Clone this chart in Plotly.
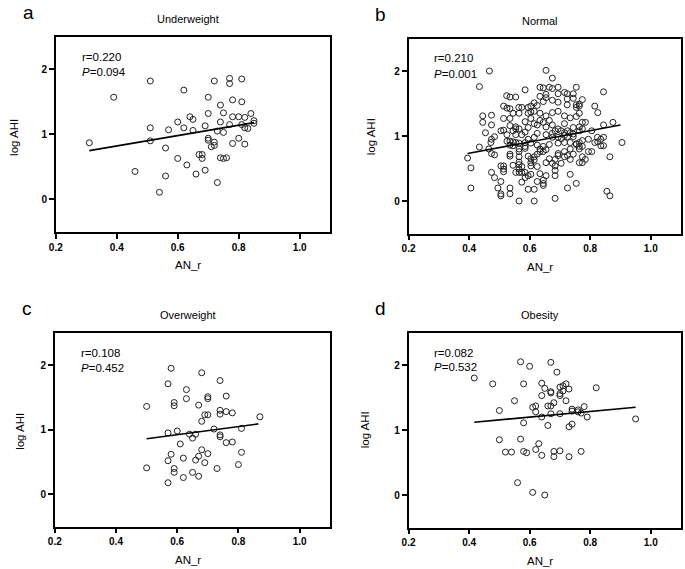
import plotly.graph_objects as go

W, H = 685, 569
FONT = "Liberation Sans, Arial, sans-serif"

# (AN_r, log AHI)
underweight = [
    (0.31, 0.87), (0.39, 1.57), (0.51, 1.82), (0.51, 1.10), (0.51, 0.90), (0.46, 0.43),
    (0.56, 0.79), (0.56, 0.36), (0.57, 1.07), (0.54, 0.11), (0.60, 1.19), (0.60, 0.63),
    (0.62, 1.68), (0.62, 1.10), (0.63, 0.53), (0.64, 1.27), (0.65, 1.23), (0.65, 1.06),
    (0.66, 0.39), (0.67, 0.69), (0.68, 0.69), (0.68, 0.63), (0.69, 1.13), (0.69, 0.45),
    (0.70, 1.57), (0.70, 1.32), (0.70, 0.94), (0.70, 0.91), (0.71, 0.81), (0.72, 1.82),
    (0.72, 0.88), (0.72, 0.83), (0.73, 1.05), (0.73, 0.26), (0.74, 1.45), (0.74, 1.19),
    (0.74, 0.64), (0.75, 1.33), (0.75, 1.03), (0.75, 0.63), (0.76, 0.64), (0.77, 1.86),
    (0.77, 1.78), (0.77, 1.15), (0.78, 1.53), (0.78, 1.27), (0.78, 0.86), (0.80, 1.27),
    (0.80, 0.94), (0.81, 1.85), (0.81, 1.50), (0.81, 1.15), (0.82, 1.26), (0.82, 1.10),
    (0.82, 0.85), (0.83, 1.09), (0.84, 1.32), (0.85, 1.21), (0.85, 1.17),
]
normal = [
    (0.467, 2.00), (0.654, 2.01), (0.434, 1.76), (0.585, 1.71), (0.675, 1.89), (0.634, 1.75),
    (0.645, 1.74), (0.665, 1.75), (0.694, 1.75), (0.654, 1.64), (0.654, 1.59), (0.675, 1.73),
    (0.715, 1.67), (0.754, 1.75), (0.844, 1.68), (0.524, 1.62), (0.535, 1.60), (0.554, 1.60),
    (0.514, 1.46), (0.535, 1.42), (0.574, 1.44), (0.604, 1.46), (0.615, 1.51), (0.615, 1.38),
    (0.645, 1.53), (0.675, 1.55), (0.694, 1.52), (0.724, 1.57), (0.744, 1.58), (0.774, 1.56),
    (0.724, 1.48), (0.754, 1.48), (0.764, 1.49), (0.754, 1.44), (0.764, 1.46), (0.815, 1.46),
    (0.825, 1.36), (0.565, 1.35), (0.595, 1.35), (0.634, 1.35), (0.654, 1.31), (0.675, 1.36),
    (0.694, 1.38), (0.715, 1.31), (0.734, 1.28), (0.754, 1.30), (0.764, 1.35), (0.445, 1.31),
    (0.474, 1.32), (0.445, 1.21), (0.474, 1.17), (0.454, 1.05), (0.474, 0.95), (0.484, 0.99),
    (0.472, 0.90), (0.434, 0.83), (0.465, 0.80), (0.474, 0.73), (0.484, 0.71), (0.395, 0.66),
    (0.406, 0.51), (0.406, 0.20), (0.474, 0.44), (0.484, 0.36), (0.495, 0.20), (0.505, 0.30),
    (0.505, 0.11), (0.505, 0.08), (0.535, 0.20), (0.535, 0.11), (0.565, 0.00), (0.615, 0.00),
    (0.684, 0.04), (0.855, 0.15), (0.865, 0.08), (0.514, 1.09), (0.505, 1.08), (0.535, 1.16),
    (0.525, 1.02), (0.535, 0.92), (0.525, 0.92), (0.545, 1.08), (0.554, 1.02), (0.554, 1.14),
    (0.554, 1.11), (0.565, 1.11), (0.574, 1.02), (0.585, 1.06), (0.595, 1.13), (0.585, 1.22),
    (0.604, 1.27), (0.615, 1.19), (0.625, 1.17), (0.634, 1.24), (0.645, 1.21), (0.654, 1.14),
    (0.665, 1.24), (0.675, 1.17), (0.684, 1.08), (0.694, 1.11), (0.704, 1.08), (0.715, 1.19),
    (0.725, 1.08), (0.734, 1.05), (0.744, 1.03), (0.705, 0.96), (0.715, 1.01), (0.654, 1.02),
    (0.675, 0.98), (0.625, 1.04), (0.615, 0.98), (0.595, 0.95), (0.585, 0.90), (0.565, 0.89),
    (0.554, 0.90), (0.545, 0.85), (0.565, 0.80), (0.585, 0.81), (0.604, 0.89), (0.625, 0.86),
    (0.645, 0.84), (0.665, 0.87), (0.694, 0.89), (0.715, 0.90), (0.734, 0.90), (0.754, 0.87),
    (0.764, 0.90), (0.774, 0.93), (0.794, 0.95), (0.815, 0.90), (0.825, 0.91), (0.824, 0.98),
    (0.844, 0.98), (0.844, 0.85), (0.835, 0.85), (0.835, 0.95), (0.794, 0.76), (0.784, 0.64),
    (0.774, 0.68), (0.865, 0.68), (0.905, 0.90), (0.875, 1.21), (0.844, 1.17), (0.805, 1.08),
    (0.784, 1.21), (0.774, 1.21), (0.774, 1.11), (0.764, 1.14), (0.744, 1.13), (0.754, 0.88),
    (0.764, 0.84), (0.734, 0.80), (0.744, 0.72), (0.725, 0.70), (0.715, 0.76), (0.694, 0.73),
    (0.694, 0.70), (0.684, 0.64), (0.675, 0.58), (0.684, 0.54), (0.684, 0.47), (0.684, 0.39),
    (0.665, 0.65), (0.654, 0.59), (0.654, 0.79), (0.645, 0.76), (0.634, 0.76), (0.625, 0.72),
    (0.615, 0.68), (0.604, 0.65), (0.604, 0.59), (0.604, 0.54), (0.615, 0.63), (0.625, 0.53),
    (0.595, 0.69), (0.585, 0.84), (0.565, 0.76), (0.565, 0.68), (0.565, 0.60), (0.565, 0.56),
    (0.574, 0.53), (0.565, 0.49), (0.554, 0.44), (0.565, 0.44), (0.574, 0.44), (0.585, 0.44),
    (0.585, 0.36), (0.595, 0.39), (0.604, 0.41), (0.545, 0.91), (0.535, 0.86), (0.535, 0.72),
    (0.535, 0.69), (0.514, 0.54), (0.505, 0.54), (0.514, 0.49), (0.514, 0.45), (0.545, 0.55),
    (0.574, 0.29), (0.615, 0.18), (0.595, 0.18), (0.645, 0.32), (0.645, 0.27), (0.645, 0.24),
    (0.654, 0.39), (0.704, 0.58), (0.715, 0.68), (0.734, 0.64), (0.734, 0.41), (0.725, 0.20),
    (0.754, 0.27), (0.805, 0.76), (0.774, 0.59), (0.764, 0.59), (0.634, 0.80), (0.634, 0.42),
    (0.625, 0.30), (0.675, 1.04), (0.694, 0.98), (0.715, 1.05), (0.725, 0.99), (0.744, 0.99),
    (0.764, 1.08), (0.774, 0.84), (0.764, 0.80), (0.595, 1.44), (0.564, 1.44), (0.545, 1.35),
    (0.525, 1.43), (0.514, 1.27), (0.535, 1.27), (0.604, 1.37), (0.625, 1.47), (0.634, 1.61),
    (0.694, 1.65), (0.724, 1.65), (0.744, 1.65),
]
overweight = [
    (0.50, 1.36), (0.50, 0.41), (0.57, 1.71), (0.57, 0.95), (0.57, 0.52), (0.57, 0.18),
    (0.58, 1.95), (0.58, 0.62), (0.59, 1.42), (0.59, 1.37), (0.59, 0.40), (0.59, 0.34),
    (0.60, 0.98), (0.61, 0.78), (0.62, 0.56), (0.62, 0.26), (0.63, 1.62), (0.63, 1.48),
    (0.64, 0.93), (0.65, 0.87), (0.65, 0.34), (0.66, 0.93), (0.66, 0.53), (0.67, 1.38),
    (0.67, 0.59), (0.67, 0.28), (0.68, 1.88), (0.68, 1.13), (0.68, 0.69), (0.69, 1.23),
    (0.69, 0.49), (0.70, 1.51), (0.70, 1.48), (0.70, 1.23), (0.70, 0.63), (0.72, 1.01),
    (0.73, 0.40), (0.74, 1.76), (0.74, 1.30), (0.74, 1.24), (0.74, 0.92), (0.74, 0.89),
    (0.76, 1.52), (0.76, 1.28), (0.76, 0.80), (0.78, 1.26), (0.78, 0.81), (0.80, 0.46),
    (0.81, 1.02), (0.81, 0.65), (0.87, 1.20),
]
obesity = [
    (0.417, 1.80), (0.478, 1.71), (0.50, 1.30), (0.50, 0.85), (0.52, 0.66), (0.54, 0.66),
    (0.55, 1.45), (0.56, 0.19), (0.57, 2.05), (0.57, 0.86), (0.58, 1.71), (0.58, 1.11),
    (0.58, 0.67), (0.59, 0.65), (0.60, 1.98), (0.61, 1.35), (0.61, 0.04), (0.62, 1.37),
    (0.62, 1.28), (0.62, 0.70), (0.63, 0.79), (0.64, 1.72), (0.64, 1.53), (0.64, 1.20),
    (0.64, 0.61), (0.65, 1.64), (0.65, 0.00), (0.66, 1.37), (0.66, 1.07), (0.67, 2.04),
    (0.67, 1.59), (0.67, 1.57), (0.67, 1.37), (0.67, 1.25), (0.68, 1.42), (0.68, 0.67),
    (0.68, 0.59), (0.69, 1.89), (0.70, 1.66), (0.70, 1.56), (0.70, 1.53), (0.70, 1.25),
    (0.70, 0.68), (0.71, 1.68), (0.71, 1.60), (0.72, 1.71), (0.72, 1.45), (0.73, 1.63),
    (0.73, 1.05), (0.73, 0.59), (0.74, 1.32), (0.74, 1.29), (0.74, 1.09), (0.76, 1.31),
    (0.76, 1.28), (0.77, 1.26), (0.77, 0.67), (0.78, 1.36), (0.79, 1.20), (0.82, 1.65),
    (0.95, 1.17),
]

# regression line end points (x, y)
fit_underweight = [(0.31, 0.75), (0.85, 1.18)]
fit_normal = [(0.395, 0.73), (0.90, 1.17)]
fit_overweight = [(0.50, 0.86), (0.865, 1.09)]
fit_obesity = [(0.417, 1.12), (0.95, 1.35)]

titles = ["Underweight", "Normal", "Overweight", "Obesity"]
letters = ["a", "b", "c", "d"]
r_text = ["r=0.220", "r=0.210", "r=0.108", "r=0.082"]
p_text = ["0.094", "0.001", "0.452", "0.532"]
x_ticks = [0.2, 0.4, 0.6, 0.8, 1.0]
y_ticks = [0, 1, 2]

panels = [underweight, normal, overweight, obesity]
fits = [fit_underweight, fit_normal, fit_overweight, fit_obesity]

# pixel frames of each panel: left, right, top, bottom
frames = [(49.3, 326.5, 36.7, 232.0), (405.7, 681.0, 38.5, 233.5),
          (48.3, 326.6, 332.7, 526.7), (405.7, 681.0, 332.5, 527.5)]
# pixel centre of each rotated "log AHI" label
ytitle_pos = [(7, 137), (368, 137), (13, 431), (362, 430)]


def px(x):
    return x / W


def py(y):
    return 1 - y / H


fig = go.Figure()
annotations = []
for i, (pts, fit) in enumerate(zip(panels, fits)):
    n = "" if i == 0 else str(i + 1)
    xa, ya = "x" + n, "y" + n
    fig.add_trace(go.Scatter(
        x=[p[0] for p in pts], y=[p[1] for p in pts], mode="markers",
        marker=dict(symbol="circle-open", size=6, color="#222", line=dict(width=1, color="#222")),
        xaxis=xa, yaxis=ya, showlegend=False, hoverinfo="x+y",
    ))
    fig.add_trace(go.Scatter(
        x=[p[0] for p in fit], y=[p[1] for p in fit], mode="lines",
        line=dict(color="black", width=1.6), xaxis=xa, yaxis=ya,
        showlegend=False, hoverinfo="skip",
    ))
    l, r, t, b = frames[i]
    common = dict(showline=True, mirror=True, linecolor="black", linewidth=1.5,
                  ticks="outside", ticklen=5, tickwidth=1.5, tickcolor="black",
                  showgrid=False, zeroline=False,
                  tickfont=dict(family=FONT, size=10, color="black", weight="bold"))
    fig.layout["xaxis" + n] = dict(common, domain=[px(l), px(r)], range=[0.2, 1.1],
                                   tickvals=x_ticks, tickformat=".1f", anchor=ya)
    fig.layout["yaxis" + n] = dict(common, domain=[py(b), py(t)], range=[-0.5, 2.5],
                                   tickvals=y_ticks, anchor=xa)
    cx = (l + r) / 2 - 5
    yx, yy = ytitle_pos[i]
    annotations += [
        dict(text=titles[i], x=px(cx), y=py(t - 18), font=dict(size=11)),
        dict(text=letters[i], x=px(l - 28), y=py(t - 24), font=dict(size=19)),
        dict(text="AN_r", x=px(cx), y=py(b + 33), font=dict(size=11.5)),
        dict(text="log AHI", x=px(yx), y=py(yy), textangle=-90, font=dict(size=11.5)),
        dict(text=r_text[i], x=px(l + 24), y=py(t + 20), xanchor="left", font=dict(size=11.5)),
        dict(text="<i>P</i>=" + p_text[i], x=px(l + 24), y=py(t + 35), xanchor="left",
             font=dict(size=11.5)),
    ]

for a in annotations:
    a.setdefault("xanchor", "center")
    a.update(xref="paper", yref="paper", yanchor="middle", showarrow=False)
    a["font"] = dict(a["font"], family=FONT, color="black")

fig.update_layout(
    width=W, height=H, margin=dict(l=0, r=0, t=0, b=0),
    paper_bgcolor="white", plot_bgcolor="white",
    annotations=annotations,
)
# the page body has an 8px default margin; drop it so the figure fills the window
fig.write_html("out.html", config={"displayModeBar": False},
               post_script="document.body.style.margin='0';document.body.style.overflow='hidden';")
